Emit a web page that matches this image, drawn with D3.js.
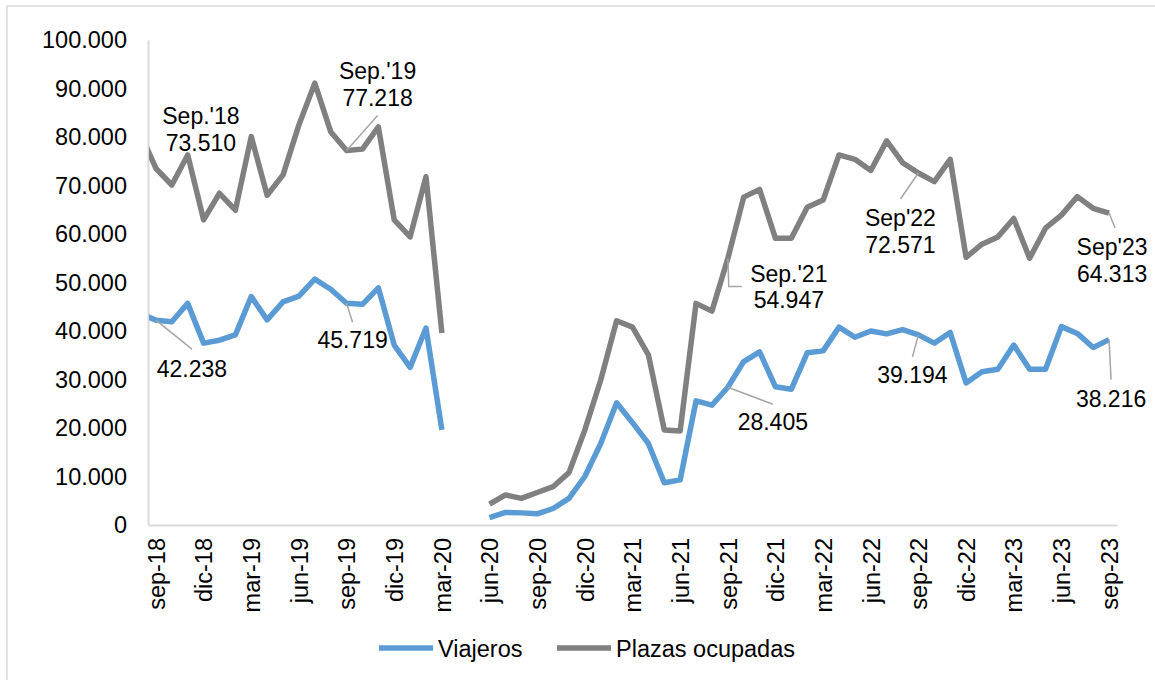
<!DOCTYPE html>
<html>
<head>
<meta charset="utf-8">
<script src="https://cdn.jsdelivr.net/npm/d3@7"></script>
<style>
  body { margin: 0; background: #fff; }
  svg text { font-family: "Liberation Sans", Arial, sans-serif; fill: #000; }
</style>
</head>
<body>
<svg id="chart" width="1155" height="680"></svg>
<script>
// months from ago-18 (clipped at the left edge) to sep-23
const months = [
  "ago-18","sep-18","oct-18","nov-18","dic-18",
  "ene-19","feb-19","mar-19","abr-19","may-19","jun-19","jul-19","ago-19","sep-19","oct-19","nov-19","dic-19",
  "ene-20","feb-20","mar-20","abr-20","may-20","jun-20","jul-20","ago-20","sep-20","oct-20","nov-20","dic-20",
  "ene-21","feb-21","mar-21","abr-21","may-21","jun-21","jul-21","ago-21","sep-21","oct-21","nov-21","dic-21",
  "ene-22","feb-22","mar-22","abr-22","may-22","jun-22","jul-22","ago-22","sep-22","oct-22","nov-22","dic-22",
  "ene-23","feb-23","mar-23","abr-23","may-23","jun-23","jul-23","ago-23","sep-23"
]

const tickLabels = ["sep-18","dic-18","mar-19","jun-19","sep-19","dic-19","mar-20","jun-20","sep-20","dic-20",
  "mar-21","jun-21","sep-21","dic-21","mar-22","jun-22","sep-22","dic-22","mar-23","jun-23","sep-23"]

const viajeros = [
  43600, 42238, 41900, 45700, 37500,
  38100, 39200, 47100, 42300, 46000, 47200, 50700, 48600, 45719, 45500, 48900, 37100,
  32500, 40600, 19600, null, null, 1500, 2600, 2500, 2300, 3400, 5500, 10000,
  16800, 25200, 21100, 16800, 8700, 9300, 25600, 24700, 28405, 33700, 35700, 28500,
  28000, 35500, 35900, 40800, 38700, 40000, 39400, 40300, 39194, 37500, 39700, 29300,
  31600, 32100, 37100, 32100, 32100, 40900, 39500, 36600, 38216
]

const plazas = [
  80900, 73510, 70100, 76300, 62900,
  68400, 64900, 80100, 68000, 72200, 82500, 91100, 81100, 77218, 77500, 82100, 62900,
  59400, 71800, 39600, null, null, 4300, 6200, 5500, 6700, 7900, 10800, 19600,
  29900, 42100, 40800, 35100, 19600, 19400, 45700, 44100, 54947, 67600, 69200, 59100,
  59100, 65500, 67000, 76300, 75400, 73100, 79200, 74700, 72571, 70800, 75400, 55200,
  57900, 59400, 63200, 55000, 61200, 63900, 67700, 65300, 64313
]

const yTicks = [0, 10000, 20000, 30000, 40000, 50000, 60000, 70000, 80000, 90000, 100000]

const series = [
  { name: "Viajeros", values: viajeros, color: "#5b9bd5" },
  { name: "Plazas ocupadas", values: plazas, color: "#808080" }
]

// data labels: month, series, optional title, text offset and leader
const annotations = [
  { s: 1, m: "sep-18", title: "Sep.'18", dx: 45, dy: -44 },
  { s: 1, m: "sep-19", title: "Sep.'19", dx: 31, dy: -71, leader: [[31, -35]] },
  { s: 0, m: "sep-18", dx: 36, dy: 57, leader: [[36, 29]] },
  { s: 0, m: "sep-19", dx: 6, dy: 45, leader: [[6, 19]] },
  { s: 1, m: "sep-21", title: "Sep.'21", dx: 61, dy: 23, leader: [[1, 28], [14, 28]] },
  { s: 1, m: "sep-22", title: "Sep'22", dx: -18, dy: 53, leader: [[-18, 26]] },
  { s: 1, m: "sep-23", title: "Sep'23", dx: 3, dy: 42, leader: [[6, 15]] },
  { s: 0, m: "sep-21", dx: 45, dy: 43, leader: [[45, 17]] },
  { s: 0, m: "sep-22", dx: -6, dy: 48, leader: [[-6, 22]] },
  { s: 0, m: "sep-23", dx: 2, dy: 67, leader: [[2, 40]] }
]

const locale = d3.formatLocale({ decimal: ",", thousands: ".", grouping: [3], currency: ["", " €"] })
const fmt = locale.format(",d")

const svg = d3.select("#chart")
const plot = { left: 148, right: 1117, top: 40, bottom: 525 }

// outer chart border
svg.append("rect")
  .attr("x", 7).attr("y", 6).attr("width", 1170).attr("height", 700)
  .attr("fill", "none").attr("stroke", "#d9d9d9").attr("stroke-width", 1.5)

// month index 0 = sep-18
const x = d3.scaleLinear()
  .domain([-0.5, 60.5])
  .range([plot.left, plot.right])

const y = d3.scaleLinear()
  .domain([0, 100000])
  .range([plot.bottom, plot.top])

const idx = m => months.indexOf(m) - 1

// y axis
const yAxis = svg.append("g")
  .attr("transform", `translate(${plot.left},0)`)
  .call(d3.axisLeft(y).tickValues(yTicks).tickFormat(d => fmt(d)).tickSize(0).tickPadding(21))
yAxis.select(".domain").attr("stroke", "#d9d9d9").attr("stroke-width", 2)
yAxis.selectAll("text")
  .style("font-size", "23.5px")
  .style("font-family", "Liberation Sans, Arial, sans-serif")
  .attr("fill", "#000")

// x axis
const xAxis = svg.append("g")
  .attr("transform", `translate(0,${plot.bottom})`)
  .call(d3.axisBottom(x).tickValues(tickLabels.map(idx)).tickFormat(d => months[d + 1]).tickSize(0))
xAxis.select(".domain").attr("stroke", "#d9d9d9").attr("stroke-width", 2)
xAxis.selectAll("text")
  .style("font-size", "23.5px")
  .style("font-family", "Liberation Sans, Arial, sans-serif")
  .attr("fill", "#000")
  .attr("transform", "rotate(-90)")
  .attr("text-anchor", "end")
  .attr("x", -13)
  .attr("y", 0)
  .attr("dy", "0.35em")

svg.append("clipPath").attr("id", "plotclip")
  .append("rect")
  .attr("x", plot.left + 1).attr("y", 0)
  .attr("width", plot.right - plot.left).attr("height", plot.bottom + 10)

const line = d3.line()
  .defined(d => d != null)
  .x((d, i) => x(i - 1))
  .y(d => y(d))

svg.append("g").attr("clip-path", "url(#plotclip)")
  .selectAll("path")
  .data(series)
  .enter().append("path")
  .attr("d", d => line(d.values))
  .attr("fill", "none")
  .attr("stroke", d => d.color)
  .attr("stroke-width", 5.5)
  .attr("stroke-linejoin", "round")

// data labels
const labels = svg.append("g")
annotations.forEach(a => {
  const i = idx(a.m)
  const v = series[a.s].values[i + 1]
  const px = x(i), py = y(v)
  if (a.leader) {
    const pts = [[px, py]].concat(a.leader.map(p => [px + p[0], py + p[1]]))
    labels.append("path")
      .attr("d", d3.line()(pts))
      .attr("fill", "none")
      .attr("stroke", "#a6a6a6")
      .attr("stroke-width", 1.5)
  }
  const lines = a.title ? [a.title, fmt(v)] : [fmt(v)]
  const t = labels.append("text")
    .attr("text-anchor", "middle")
    .style("font-size", "23px")
  lines.forEach((l, k) => {
    t.append("tspan")
      .attr("x", px + a.dx)
      .attr("y", py + a.dy + k * 26.5)
      .text(l)
  })
})

// legend
const legend = svg.append("g")
const legendItems = [
  { s: series[0], x: 379 },
  { s: series[1], x: 557 }
]
legendItems.forEach(it => {
  legend.append("line")
    .attr("x1", it.x).attr("x2", it.x + 54)
    .attr("y1", 648).attr("y2", 648)
    .attr("stroke", it.s.color).attr("stroke-width", 5.5)
  legend.append("text")
    .attr("x", it.x + 59).attr("y", 657)
    .style("font-size", "23.5px")
    .text(it.s.name)
})
</script>
</body>
</html>
